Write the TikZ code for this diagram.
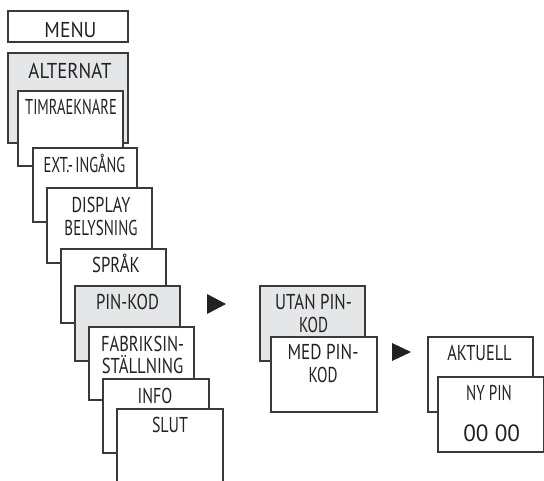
\documentclass[tikz,border=0pt]{standalone}
\usepackage{fontspec}
\setmainfont{PT Sans}
\usepackage{graphicx}
\definecolor{lin}{HTML}{3A3A3A}
\definecolor{shade}{HTML}{E5E6E8}
\definecolor{ink}{HTML}{222222}
\tikzset{
  box/.style={draw=lin, line width=1.1pt, fill=white, rectangle, inner sep=0pt, outer sep=0pt, anchor=north west},
  grey/.style={box, fill=shade},
  lbl/.style={text=ink, font=\fontsize{21.5}{22.5}\selectfont, inner sep=0pt, anchor=base, align=center},
  tip/.style={fill=ink}
}
\newcommand{\mybox}[6]{% style, name, x1, y1, x2, y2
  \node[#1, minimum width={#5-#3}, minimum height={#6-#4}] (#2) at (#3,#4) {};}
\newcommand{\fitw}[2]{\resizebox{#1pt}{\height}{#2}}
\begin{document}
\begin{tikzpicture}[x=1pt,y=-1pt]
\useasboundingbox (0,0) rectangle (544,480);
% left column
\mybox{box}{menu}{8}{11}{128}{42}
\node[lbl] (tmenu) at (70.5,37.5) {\fitw{52}{MENU}};
\mybox{grey}{alt}{8}{53}{128}{143}
\node[lbl] (talt) at (70,78.3) {\fitw{83}{ALTERNAT}};
\mybox{box}{timr}{18}{91}{123}{166}
\node[lbl] (ttimr) at (71,114.3) {\fitw{91.5}{TIMRAEKNARE}};
\mybox{box}{ext}{33}{148}{137}{222}
\node[lbl] (text) at (84.5,172.3) {\fitw{81.7}{EXT.-\,INGÅNG}};
\mybox{box}{disp}{47}{188}{152}{263}
\node[lbl] (tdisp) at (101,235) {\fitw{58.7}{DISPLAY}\\\fitw{73}{BELYSNING}};
\mybox{box}{sprak}{61}{249}{166}{323}
\node[lbl] (tsprak) at (116,272.3) {\fitw{47.7}{SPRÅK}};
\mybox{grey}{pin}{75}{286}{180}{361}
\node[lbl] (tpin) at (127.5,309.3) {\fitw{63}{PIN-KOD}};
\mybox{box}{fab}{89}{327}{194}{400}
\node[lbl] (tfab) at (142.6,373.5) {\fitw{83}{FABRIKSIN-}\\\fitw{81.7}{STÄLLNING}};
\mybox{box}{info}{103}{379}{209}{453}
\node[lbl] (tinfo) at (155,403) {\fitw{34.7}{INFO}};
\mybox{box}{slut}{117}{409}{223}{495}
\node[lbl] (tslut) at (170,432) {\fitw{36}{SLUT}};
% arrow 1
\coordinate (a1) at (207,294);
\fill[tip] (a1) -- ++(0,20) -- ++(19,-10) -- cycle;
% middle column
\mybox{grey}{utan}{260}{286}{365}{361}
\node[lbl, font=\fontsize{21.5}{23.4}\selectfont] (tutan) at (313.5,332.7) {\fitw{76.7}{UTAN PIN-}\\\fitw{29}{KOD}};
\mybox{box}{med}{271}{337}{377}{412}
\node[lbl] (tmed) at (323,382) {\fitw{71}{MED PIN-}\\\fitw{29}{KOD}};
% arrow 2
\coordinate (a2) at (392,343);
\fill[tip] (a2) -- ++(0,18) -- ++(19,-9) -- cycle;
% right column
\mybox{box}{akt}{428}{337}{533}{412}
\node[lbl] (takt) at (479.5,360.3) {\fitw{64.3}{AKTUELL}};
\mybox{box}{ny}{438}{377}{543.4}{452}
\node[lbl] (tny) at (489,400) {\fitw{45.7}{NY PIN}};
\node[lbl, font=\fontsize{23.5}{24}\selectfont] (tzero) at (491.7,441.7) {\fitw{56.7}{00 00}};
\end{tikzpicture}
\end{document}
